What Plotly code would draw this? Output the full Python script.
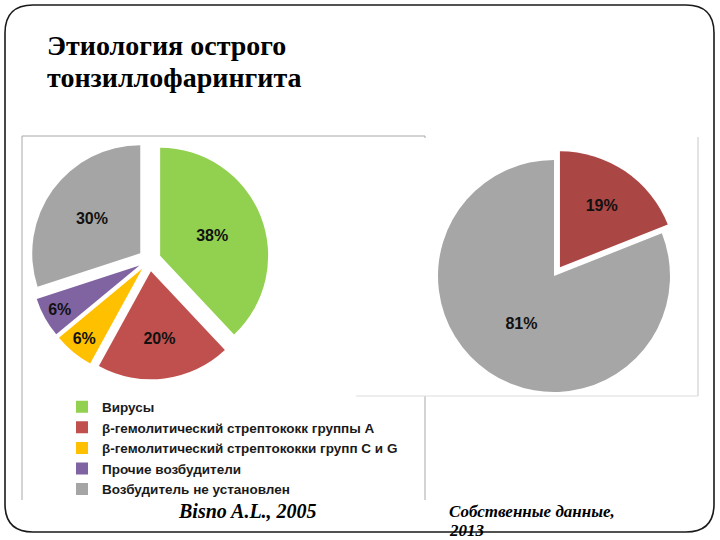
import plotly.graph_objects as go

W, H = 720, 540

# ---- data ----
left_labels = [
    "Вирусы",
    "β-гемолитический стрептококк группы А",
    "β-гемолитический стрептококки групп С и G",
    "Прочие возбудители",
    "Возбудитель не установлен",
]
left_values = [38, 20, 6, 6, 30]
left_colors = ["#92D050", "#C0504D", "#FFC000", "#8064A2", "#A5A5A5"]

right_labels = ["Стрептококк группы А (собств.)", "Не установлен (собств.)"]
right_values = [19, 81]
right_colors = ["#AA4644", "#A6A6A6"]

title_lines = ["Этиология острого", "тонзиллофарингита"]
caption_left = "Bisno A.L., 2005"
caption_right = ["Собственные данные,", "2013"]


def px(x):
    return x / W


def py(y):
    return 1 - y / H


fig = go.Figure()

SANS = "Liberation Sans, Arial, sans-serif"
SERIF = "serif"

lp = 0.106
lr = 108
ls = lr * (1 + lp)
fig.add_trace(go.Pie(
    labels=left_labels, values=left_values,
    marker=dict(colors=left_colors, line=dict(width=0)),
    pull=[lp] * 5, sort=False, direction="clockwise", rotation=0,
    texttemplate="%{value}%", textposition="inside",
    insidetextorientation="horizontal",
    textfont=dict(family=SANS, size=16, color="#111111", weight="bold"),
    domain=dict(x=[px(149.5 - ls), px(149.5 + ls)], y=[py(260 + ls), py(260 - ls)]),
    showlegend=True, hoverinfo="label+percent",
))

rp = 0.091
rr = 116
rs = rr * (1 + rp)
fig.add_trace(go.Pie(
    labels=right_labels, values=right_values,
    marker=dict(colors=right_colors, line=dict(width=0)),
    pull=[rp, 0], sort=False, direction="clockwise", rotation=0,
    texttemplate="%{value}%", textposition="inside",
    insidetextorientation="horizontal",
    textfont=dict(family=SANS, size=16, color="#111111", weight="bold"),
    domain=dict(x=[px(554 - rs), px(554 + rs)], y=[py(276 + rs), py(276 - rs)]),
    showlegend=False, hoverinfo="label+percent",
))

shapes = []
gray = "#A8A8A8"
shapes.append(dict(type="line", xref="paper", yref="paper", x0=px(22), x1=px(425), y0=py(136), y1=py(136),
                   line=dict(color=gray, width=1), layer="below"))
shapes.append(dict(type="line", xref="paper", yref="paper", x0=px(22), x1=px(22), y0=py(136), y1=py(500),
                   line=dict(color=gray, width=1), layer="below"))
shapes.append(dict(type="line", xref="paper", yref="paper", x0=px(425), x1=px(425), y0=py(136), y1=py(500),
                   line=dict(color=gray, width=1), layer="below"))
shapes.append(dict(type="rect", xref="paper", yref="paper", x0=px(356), x1=px(698), y0=py(396), y1=py(138),
                   fillcolor="white", line=dict(width=0), layer="below"))
shapes.append(dict(type="line", xref="paper", yref="paper", x0=px(698), x1=px(698), y0=py(137), y1=py(396),
                   line=dict(color="#C8C8C8", width=1), layer="below"))
shapes.append(dict(type="line", xref="paper", yref="paper", x0=px(356), x1=px(698), y0=py(396), y1=py(396),
                   line=dict(color="#DDDDDD", width=1), layer="below"))

L, T, R, B, rad = 5, 5, 714, 532, 28
pts = [
    ("M", [(L + rad, T)]), ("L", [(R - rad, T)]), ("Q", [(R, T), (R, T + rad)]),
    ("L", [(R, B - rad)]), ("Q", [(R, B), (R - rad, B)]), ("L", [(L + rad, B)]),
    ("Q", [(L, B), (L, B - rad)]), ("L", [(L, T + rad)]), ("Q", [(L, T), (L + rad, T)]),
]
path = ""
for cmd, ps in pts:
    path += cmd + " " + " ".join(f"{px(a):.5f},{py(b):.5f}" for a, b in ps) + " "
path += "Z"
shapes.append(dict(type="path", xref="paper", yref="paper", path=path,
                   line=dict(color="#1a1a1a", width=1.6), layer="above"))

annotations = []
title_font = dict(family=SERIF, size=28, color="#000000", weight="bold")
annotations.append(dict(text=title_lines[0], x=px(45), y=py(45), xref="paper", yref="paper",
                        xanchor="left", yanchor="middle", showarrow=False, font=title_font))
annotations.append(dict(text=title_lines[1], x=px(45), y=py(77), xref="paper", yref="paper",
                        xanchor="left", yanchor="middle", showarrow=False, font=title_font))
annotations.append(dict(text=caption_left, x=px(247), y=py(511), xref="paper", yref="paper",
                        xanchor="center", yanchor="middle", showarrow=False,
                        font=dict(family=SERIF, size=20, color="#000000", weight="bold", style="italic")))
cap2 = dict(family=SERIF, size=17, color="#000000", weight="bold", style="italic")
annotations.append(dict(text=caption_right[0], x=px(447), y=py(511), xref="paper", yref="paper",
                        xanchor="left", yanchor="middle", showarrow=False, font=cap2))
annotations.append(dict(text=caption_right[1], x=px(447), y=py(530), xref="paper", yref="paper",
                        xanchor="left", yanchor="middle", showarrow=False, font=cap2))

fig.update_layout(
    width=W, height=H,
    margin=dict(l=0, r=0, t=0, b=0),
    paper_bgcolor="white", plot_bgcolor="white",
    shapes=shapes, annotations=annotations,
    uniformtext=dict(minsize=16, mode="show"),
    legend=dict(
        x=px(62), y=py(391.5), xanchor="left", yanchor="top",
        font=dict(family=SANS, size=13.5, color="#1a1a1a", weight="bold"),
        bgcolor="rgba(0,0,0,0)", itemclick=False, itemdoubleclick=False,
    ),
)

fig.write_html("out.html")
